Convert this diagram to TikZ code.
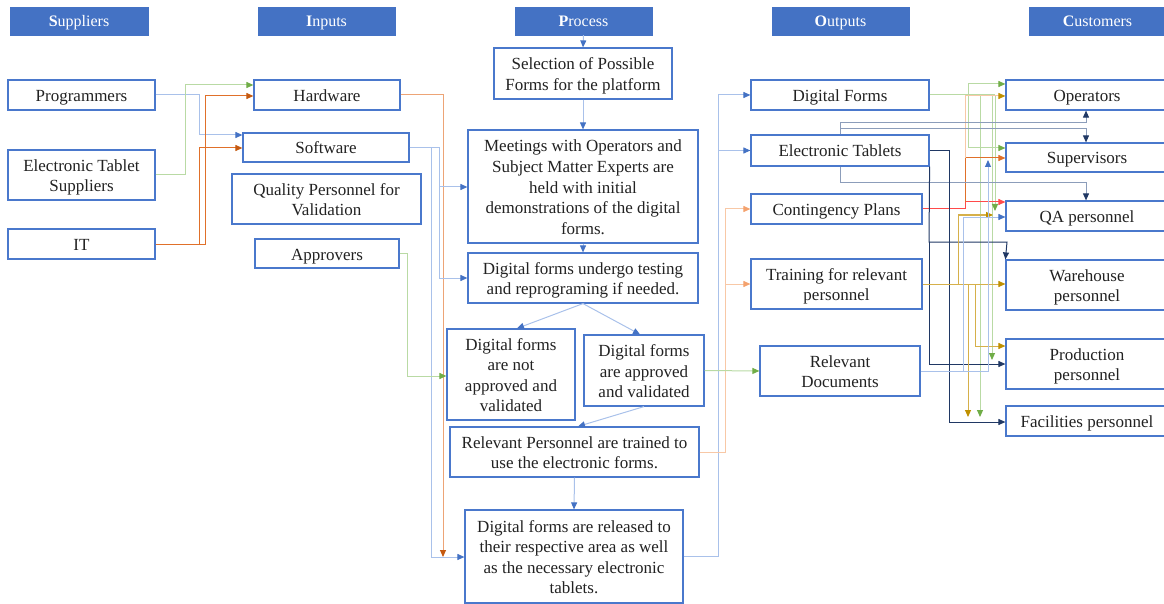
\documentclass[tikz,border=0pt]{standalone}
\usepackage{fontspec}
\setmainfont{Liberation Serif}
\usetikzlibrary{arrows.meta}
\definecolor{boxc}{HTML}{4A78CC}
\definecolor{hdr}{HTML}{4472C4}
\definecolor{txtc}{HTML}{222222}
\definecolor{lblue}{HTML}{A9C1EA}
\definecolor{dblue}{HTML}{4472C4}
\definecolor{lorange}{HTML}{EDA476}
\definecolor{dorange}{HTML}{C55A11}
\definecolor{peach}{HTML}{F8C8A6}
\definecolor{peachd}{HTML}{F4A26E}
\definecolor{lgreen}{HTML}{B9DAA4}
\definecolor{dgreen}{HTML}{70AD47}
\definecolor{goldl}{HTML}{D6B04A}
\definecolor{goldd}{HTML}{BF9000}
\definecolor{navy}{HTML}{203864}
\definecolor{lnavy}{HTML}{8C9DBA}
\definecolor{redc}{HTML}{FF4A4A}
\definecolor{orr}{HTML}{E0702A}
\newcommand\topstrut{\rule{0pt}{17pt}}
\newcommand\botstrut{\rule[-4pt]{0pt}{4pt}}
\newcommand\T[1]{\topstrut#1\botstrut}
\tikzset{
  box/.style={draw=boxc, line width=1.2pt, fill=white, inner sep=1pt, align=center,
    text=txtc, font=\fontsize{17}{20.6}\selectfont},
  bx/.style 2 args={minimum width=#1, minimum height=#2},
  hbox/.style={fill=hdr, draw=hdr, text=white, inner sep=0pt, minimum width=137, minimum height=28,
    font=\fontsize{16}{18}\selectfont},
  conn/.style 2 args={draw=#1, line width=1pt, -{Triangle[length=7pt,width=6pt,color=#2]}},
  cb/.style={conn={lblue}{dblue}},
  co/.style={conn={orr}{dorange}},
  co2/.style={conn={lorange}{dorange}},
  cp/.style={conn={peach}{peachd}},
  cg/.style={conn={lgreen}{dgreen}},
  cgo/.style={conn={goldl}{goldd}},
  cn/.style={conn={navy}{navy}},
  cnl/.style={conn={lnavy}{navy}},
  cred/.style={conn={redc}{redc}},
  corr/.style={conn={orr}{orr}},
  plainl/.style={draw=#1, line width=1pt},
}
\begin{document}
\begin{tikzpicture}[x=1pt,y=-1pt]
\useasboundingbox (0,0) rectangle (1164,604);
% headers
\node[hbox, minimum width=138] (hsup) at (79,21) {\rule{0pt}{16pt}\textbf{S}uppliers\rule[-4pt]{0pt}{4pt}};
\node[hbox] (hin) at (326.5,21) {\rule{0pt}{16pt}\textbf{I}nputs\rule[-4pt]{0pt}{4pt}};
\node[hbox] (hproc) at (583.5,21) {\rule{0pt}{16pt}\textbf{P}rocess\rule[-4pt]{0pt}{4pt}};
\node[hbox] (hout) at (840.5,21) {\rule{0pt}{16pt}\textbf{O}utputs\rule[-4pt]{0pt}{4pt}};
\node[hbox] (hcus) at (1097.5,21) {\rule{0pt}{16pt}\textbf{C}ustomers\rule[-4pt]{0pt}{4pt}};
% suppliers
\node[box, bx={147}{30}] (prog) at (81.5,95) {\T{Programmers}};
\node[box, bx={147}{50}] (ets) at (81.5,175) {\T{Electronic Tablet\\Suppliers}};
\node[box, bx={147}{30}] (it) at (81.5,244) {\T{IT}};
% inputs
\node[box, bx={146}{30}] (hw) at (327,95) {\T{Hardware}};
\node[box, bx={166}{29}] (sw) at (326,147.5) {\T{Software}};
\node[box, bx={189}{50}] (qp) at (326.5,199) {\T{Quality Personnel for\\Validation}};
\node[box, bx={144}{29}] (appr) at (327,253.5) {\T{Approvers}};
% process
\node[box, bx={178}{51}] (sel) at (583,73.5) {\T{Selection of Possible\\Forms for the platform}};
\node[box, bx={230}{113}] (meet) at (583,186.5) {\T{Meetings with Operators and\\Subject Matter Experts are\\held with initial\\demonstrations of the digital\\forms.}};
\node[box, bx={230}{50}] (test) at (583,278) {\T{Digital forms undergo testing\\and reprograming if needed.}};
\node[box, bx={128}{91}] (notap) at (511,374.5) {\T{Digital forms\\are not\\approved and\\validated}};
\node[box, bx={120}{71}] (ap) at (644,370.5) {\T{Digital forms\\are approved\\and validated}};
\node[box, bx={249}{50}] (train) at (574.5,452) {\T{Relevant Personnel are trained to\\use the electronic forms.}};
\node[box, bx={218}{93}] (rel) at (574,556.5) {\T{Digital forms are released to\\their respective area as well\\as the necessary electronic\\tablets.}};
% outputs
\node[box, bx={178}{30}] (df) at (840,95) {\T{Digital Forms}};
\node[box, bx={178}{31}] (et) at (840,150.5) {\T{Electronic Tablets}};
\node[box, bx={171}{30}] (cp) at (836.5,209) {\T{Contingency Plans}};
\node[box, bx={171}{50}] (tr) at (836.5,284) {\T{Training for relevant\\personnel}};
\node[box, bx={160}{50}] (rd) at (840,371) {\T{Relevant\\Documents}};
% customers
\node[box, bx={162}{30}] (op) at (1087,95) {\T{Operators}};
\node[box, bx={162}{29}] (sup) at (1087,157.5) {\T{Supervisors}};
\node[box, bx={162}{30}] (qa) at (1087,216) {\T{QA personnel}};
\node[box, bx={162}{50}] (wh) at (1087,285) {\T{Warehouse\\personnel}};
\node[box, bx={162}{50}] (prod) at (1087,364) {\T{Production\\personnel}};
\node[box, bx={162}{30}] (fac) at (1087,421) {\T{Facilities personnel}};

% suppliers -> inputs
\coordinate (p1) at (199,135);
\draw[cb] (prog.east) -| (p1) -- (sw.west |- p1);
\coordinate (e1) at (185,85);
\draw[cg] (ets.east) -| (e1) -- (hw.west |- e1);
\coordinate (i1) at (199,148);
\draw[co] (it.east) -| (i1) -- (sw.west |- i1);
\coordinate (i2) at (205,96);
\draw[co] (it.east) -| (i2) -- (hw.west |- i2);

% inputs -> process
\coordinate (h2) at (443,557);
\draw[co2] (hw.east) -| (h2);
\coordinate (s1) at (431,557);
\draw[cb] (sw.east) -| (s1) -- (rel.west |- s1);
\coordinate (s2) at (439,187);
\draw[cb] (sw.east) -| (s2) -- (meet.west |- s2);
\draw[cb] (s2) |- (test.west);
\coordinate (a1) at (407,376);
\draw[cg] (appr.east) -| (a1) -- (notap.west |- a1);

% process chain
\draw[cb] (hproc.south) -- (sel.north);
\draw[cb] (sel.south) -- (meet.north);
\draw[cb] (meet.south) -- (test.north);
\draw[cb] (test.south) -- ([xshift=6]notap.north);
\draw[cb] (test.south) -- ([xshift=-4]ap.north);
\draw[cb] (ap.south) -- ([xshift=3.5]train.north);
\draw[cb] (train.south) -- (rel.north);

% process -> outputs
\coordinate (r2) at (718,95);
\draw[cb] (rel.east) -| (r2) -- (df.west);
\coordinate (r3) at (718,150.5);
\draw[cb] (r3) -- (et.west);
\coordinate (t1) at (725,209);
\draw[cp] (train.east) -| (t1) -- (cp.west);
\coordinate (t2) at (725,284);
\draw[cp] (t2) -- (tr.west);
\draw[cg] (ap.east) -- (rd.west);

% outputs -> customers : digital forms (green)
\coordinate (d1) at (968,95);
\coordinate (d2) at (968,84);
\coordinate (d3) at (968,148);
\coordinate (d0) at (995,95);
\draw[plainl=lgreen] (df.east) -- (d0);
\draw[cg] (d1) -- (d2) -- (op.west |- d2);
\draw[cg] (d1) -- (d3) -- (sup.west |- d3);
\coordinate (d4) at (980,95); \coordinate (d5) at (980,417);
\draw[cg] (d4) -- (d5);
\coordinate (d6) at (992,95); \coordinate (d7) at (992,360);
\draw[cg] (d6) -- (d7);
\coordinate (d9) at (995,211);
\draw[cg] (d0) -- (d9);

% contingency plans
\coordinate (c1) at (965,209); \coordinate (c2) at (965,202);
\draw[cred] (cp.east) -- (c1) -- (c2) -- (qa.west |- c2);
\coordinate (c3) at (965,158);
\draw[corr] (c2) -- (c3) -- (sup.west |- c3);
\coordinate (c4) at (965,96);
\draw[conn={peach}{goldd}] (c3) -- (c4) -- (op.west |- c4);

% electronic tablets (navy)
\coordinate (n1) at (1086,123);
\draw[cnl] (et.north) |- (n1) -- (op.south -| n1);
\coordinate (n2) at (1086,129);
\draw[cnl] (et.north) |- (n2) -- (sup.north -| n2);
\coordinate (n3) at (1086,183);
\draw[conn={lnavy}{navy}] (et.south) |- (n3) -- (qa.north -| n3);
\coordinate (n4) at (949,422);
\draw[cn] (et.east) -| (n4) -- (fac.west |- n4);
\coordinate (n5) at (929,242); \coordinate (n6) at (1007,242);
\draw[cn] (et.south east) -- (n5) -- (n6) -- (wh.north west);
\draw[cn] (n5) |- (prod.west);

% training (gold)
\draw[cgo] (tr.east) -- (wh.west |- tr.east);
\coordinate (g1) at (958,284); \coordinate (g2) at (993,215);
\draw[cgo] (g1) |- (g2);
\coordinate (g3) at (968,284); \coordinate (g4) at (968,417);
\draw[cgo] (g3) -- (g4);
\coordinate (g5) at (975,284); \coordinate (g6) at (975,346);
\draw[cgo] (g5) -- (g6) -- (prod.west |- g6);

% relevant documents (blue)
\coordinate (b1) at (963,371); \coordinate (b2) at (963,217);
\draw[cb] (rd.east) -- (b1) -- (b2) -- (qa.west |- b2);
\coordinate (b3) at (988,371); \coordinate (b4) at (988,160);
\draw[cb] (b1) -- (b3) -- (b4);
\end{tikzpicture}
\end{document}
